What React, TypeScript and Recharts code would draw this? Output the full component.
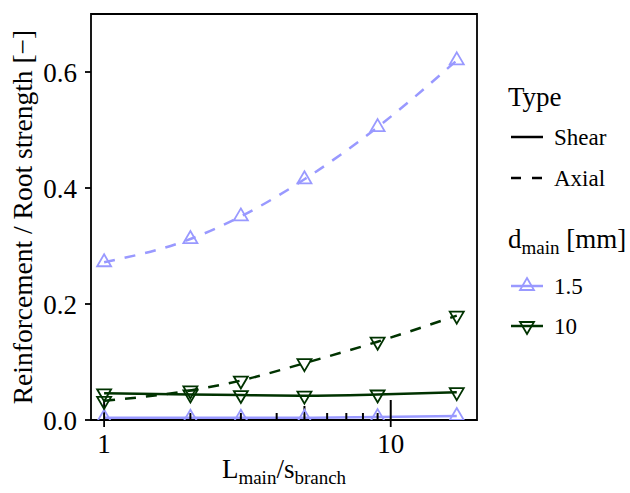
import React from "react";
import {
  LineChart,
  Line,
  XAxis,
  YAxis,
  ReferenceLine,
  ReferenceArea,
  Label,
} from "recharts";

// spacing ratio L_main / s_branch
const ratios = [1, 2, 3, 5, 9, 17];

// reinforcement / root strength
const shearThin = [0.004, 0.004, 0.004, 0.004, 0.005, 0.007];
const axialThin = [0.272, 0.312, 0.351, 0.415, 0.505, 0.62];
const shearThick = [0.046, 0.044, 0.043, 0.042, 0.044, 0.048];
const axialThick = [0.033, 0.051, 0.068, 0.098, 0.135, 0.18];

const yTicks = [0, 0.2, 0.4, 0.6];
const xTicks = [1, 10];
const logTicks = [1, 2, 3, 4, 5, 6, 7, 8, 9, 10];
const typeLabels = ["Shear", "Axial"];
const diameterLabels = ["1.5", "10"];

const BLUE = "#9999ff";
const GREEN = "#003300";
const FONT = "Liberation Serif";
const TICK_SIZE = 27;

const data = ratios.map((x, i) => ({
  x,
  shearThin: shearThin[i],
  axialThin: axialThin[i],
  shearThick: shearThick[i],
  axialThick: axialThick[i],
}));

const triPath = (cx: number, cy: number, up: boolean) =>
  up
    ? `M${cx},${cy - 8} L${cx + 7},${cy + 4} L${cx - 7},${cy + 4} Z`
    : `M${cx},${cy + 8} L${cx + 7},${cy - 4} L${cx - 7},${cy - 4} Z`;

const makeDot = (up: boolean, color: string) => (props: any) => {
  const { cx, cy, index } = props;
  if (cx == null || cy == null) return <g key={index} />;
  return (
    <path
      key={index}
      d={triPath(cx, cy, up)}
      fill="none"
      stroke={color}
      strokeWidth={1.8}
    />
  );
};

const XTick = (props: any) => (
  <text
    x={props.x}
    y={props.y}
    dy="0.71em"
    textAnchor="middle"
    style={{ fontSize: TICK_SIZE, fontFamily: FONT }}
    fill="#000"
  >
    {props.payload.value}
  </text>
);

const YTick = (props: any) => (
  <text
    x={props.x}
    y={props.y}
    dy="0.355em"
    textAnchor="end"
    style={{ fontSize: TICK_SIZE, fontFamily: FONT }}
    fill="#000"
  >
    {Number(props.payload.value).toFixed(1)}
  </text>
);

const tickLen = (t: number) => (t === 1 || t === 10 ? 20 : t === 5 ? 14 : 7);

const Legend = () => (
  <svg
    width={630}
    height={493}
    style={{ position: "absolute", left: 0, top: 0, pointerEvents: "none", fontFamily: FONT }}
  >
    <text x={508} y={106} style={{ fontSize: 27 }} fill="#000">
      Type
    </text>
    {typeLabels.map((lab, i) => {
      const y = 137 + i * 41;
      return (
        <g key={lab}>
          <line
            x1={511}
            x2={543}
            y1={y}
            y2={y}
            stroke="#000"
            strokeWidth={2.5}
            strokeDasharray={i === 1 ? "10 11" : undefined}
          />
          <text x={554} y={y + 8} style={{ fontSize: 23 }} fill="#000">
            {lab}
          </text>
        </g>
      );
    })}
    <text x={508} y={248} style={{ fontSize: 27 }} fill="#000">
      d
      <tspan style={{ fontSize: 19 }} dy={6}>
        main
      </tspan>
      <tspan dy={-6}> [mm]</tspan>
    </text>
    {diameterLabels.map((lab, i) => {
      const y = 286 + i * 40;
      const color = i === 0 ? BLUE : GREEN;
      return (
        <g key={lab}>
          <line x1={511} x2={543} y1={y} y2={y} stroke={color} strokeWidth={2.5} />
          <path d={triPath(527, y, i === 0)} fill="none" stroke={color} strokeWidth={1.8} />
          <text x={554} y={y + 8} style={{ fontSize: 23 }} fill="#000">
            {lab}
          </text>
        </g>
      );
    })}
  </svg>
);

export default function App() {
  return (
    <div style={{ position: "absolute", left: 0, top: 0, width: 630, height: 493, background: "#fff", fontFamily: FONT }}>
      <LineChart
        width={630}
        height={493}
        data={data}
        margin={{ top: 14, right: 153, bottom: 0, left: 0 }}
      >
        <ReferenceArea
          x1={0.9}
          x2={20}
          y1={0}
          y2={0.7}
          fill="none"
          stroke="#000"
          strokeWidth={1.8}
          ifOverflow="visible"
        />
        <XAxis
          dataKey="x"
          type="number"
          scale="log"
          domain={[0.9, 20]}
          ticks={xTicks}
          allowDataOverflow
          height={73}
          axisLine={false}
          tickSize={7}
          tickMargin={7}
          tickLine={{ stroke: "#000", strokeWidth: 1.8 }}
          tick={<XTick />}
        >
          <Label
            content={(props: any) => {
              const vb = props.viewBox || { x: 91, y: 420, width: 386 };
              return (
                <text
                  x={vb.x + vb.width / 2}
                  y={vb.y + 58}
                  textAnchor="middle"
                  style={{ fontSize: 27, fontFamily: FONT }}
                  fill="#000"
                >
                  L
                  <tspan style={{ fontSize: 19 }} dy={6}>
                    main
                  </tspan>
                  <tspan dy={-6}>/s</tspan>
                  <tspan style={{ fontSize: 19 }} dy={6}>
                    branch
                  </tspan>
                </text>
              );
            }}
          />
        </XAxis>
        <YAxis
          type="number"
          domain={[0, 0.7]}
          ticks={yTicks}
          allowDataOverflow
          width={91}
          axisLine={false}
          tickSize={6}
          tickMargin={8}
          tickLine={{ stroke: "#000", strokeWidth: 1.8 }}
          tick={<YTick />}
        >
          <Label
            content={(props: any) => {
              const vb = props.viewBox || { x: 0, y: 14, height: 406 };
              const cx = 22;
              const cy = vb.y + vb.height / 2;
              return (
                <text
                  x={cx}
                  y={cy}
                  transform={`rotate(-90, ${cx}, ${cy})`}
                  textAnchor="middle"
                  dominantBaseline="central"
                  style={{ fontSize: 27.5, fontFamily: FONT }}
                  fill="#000"
                >
                  Reinforcement / Root strength [−]
                </text>
              );
            }}
          />
        </YAxis>
        <Line
          dataKey="shearThin"
          type="monotone"
          stroke={BLUE}
          strokeWidth={2.5}
          dot={makeDot(true, BLUE)}
          isAnimationActive={false}
        />
        <Line
          dataKey="axialThin"
          type="monotone"
          stroke={BLUE}
          strokeWidth={2.5}
          strokeDasharray="11 10"
          dot={makeDot(true, BLUE)}
          isAnimationActive={false}
        />
        <Line
          dataKey="shearThick"
          type="monotone"
          stroke={GREEN}
          strokeWidth={2.5}
          dot={makeDot(false, GREEN)}
          isAnimationActive={false}
        />
        <Line
          dataKey="axialThick"
          type="monotone"
          stroke={GREEN}
          strokeWidth={2.5}
          strokeDasharray="11 10"
          dot={makeDot(false, GREEN)}
          isAnimationActive={false}
        />
        {logTicks.map((t) => (
          <ReferenceLine
            key={t}
            x={t}
            stroke="#000"
            shape={(p: any) => {
              const yb = Math.max(p.y1, p.y2);
              return (
                <line
                  x1={p.x1}
                  x2={p.x1}
                  y1={yb}
                  y2={yb - tickLen(t)}
                  stroke="#000"
                  strokeWidth={2}
                />
              );
            }}
          />
        ))}
      </LineChart>
      <Legend />
    </div>
  );
}
